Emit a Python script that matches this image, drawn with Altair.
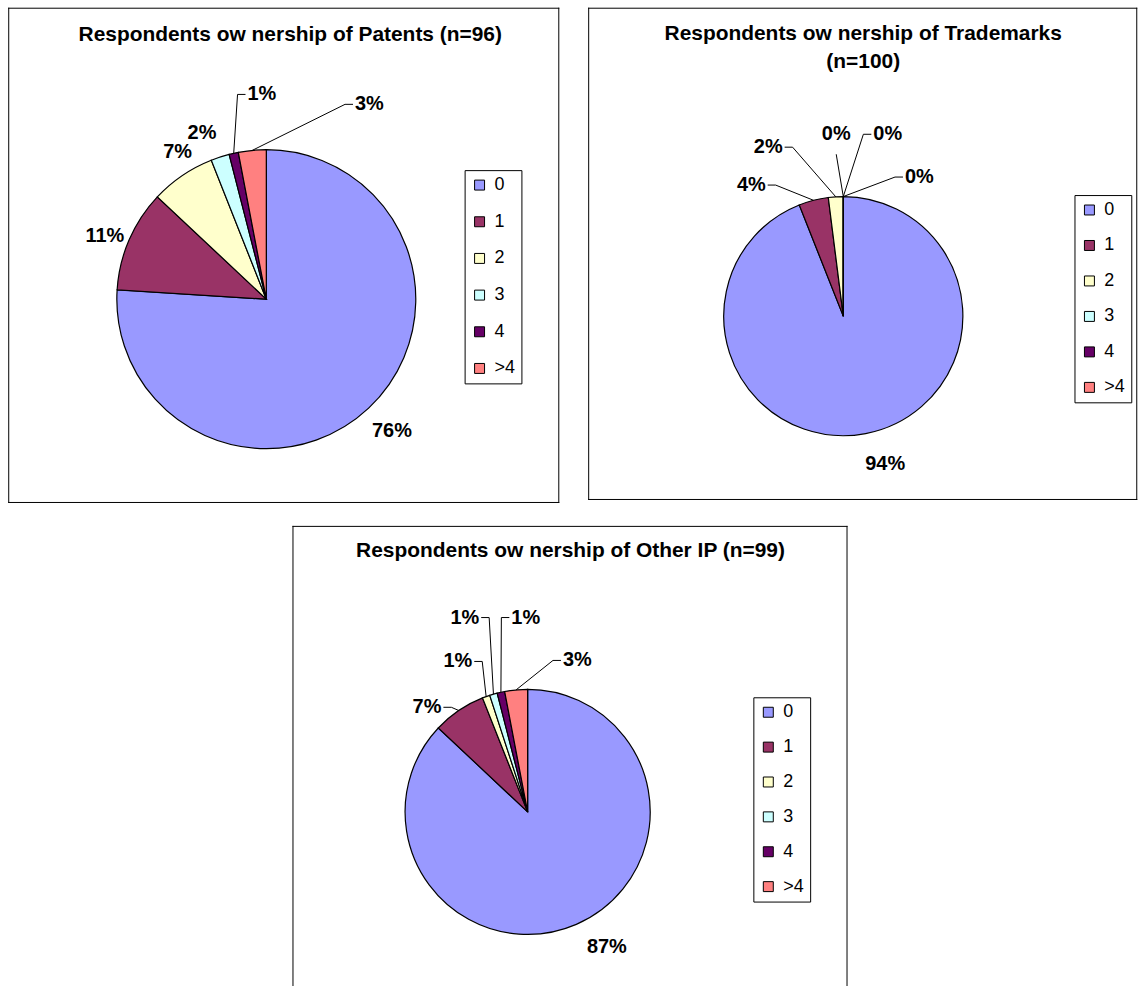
import math

import altair as alt
import pandas as pd

# ---------------------------------------------------------------- data
CATEGORIES = ["0", "1", "2", "3", "4", ">4"]
COLORS = ["#9999FF", "#993366", "#FFFFCC", "#CCFFFF", "#660066", "#FF8080"]

PATENTS = [76, 11, 7, 2, 1, 3]
TRADEMARKS = [94, 4, 2, 0, 0, 0]
OTHER_IP = [87, 7, 1, 1, 1, 3]

TITLE_PATENTS = "Respondents ow nership of Patents (n=96)"
TITLE_TRADEMARKS = "Respondents ow nership of Trademarks\n(n=100)"
TITLE_OTHER = "Respondents ow nership of Other IP (n=99)"

# ---------------------------------------------------------------- layout
FONT = "Liberation Sans, Arial, sans-serif"
TICK = 8   # horizontal end of a leader line
GAP = 2    # space between leader end and its label

# label placement per slice: (angle in degrees clockwise from 12 o'clock,
# distance from pie centre, where the label sits relative to its leader)
LAYOUT_PATENTS = dict(
    size=(553, 497), center=(259, 292.5), radius=150, title=(283, 16.5),
    legend=(458, 163), row_pad=18.8, borders=("left", "right", "top", "bottom"),
    labels=[(136.4, 182.8, "none"), (291.4, 174, "none"), (328.9, 172.3, "none"),
            (338.8, 178.6, "none"), (352.0, 207.5, "right"), (22.0, 210.9, "right")],
)
LAYOUT_TRADEMARKS = dict(
    size=(551, 494), center=(256, 309.5), radius=120, title=(276, 15.5),
    legend=(488, 188), row_pad=17.6, borders=("left", "right", "top", "bottom"),
    labels=[(164.2, 154.3, "none"), (332.7, 148, "left"), (343.3, 177, "left"),
            (357.5, 162.6, "above"), (6.3, 183.6, "right"), (20.4, 148.9, "right")],
)
LAYOUT_OTHER = dict(
    size=(563, 463), center=(236, 287), radius=123, title=(279, 14.5),
    legend=(462.5, 172), row_pad=17, borders=("left", "right", "top"),
    box_width=557,
    labels=[(149.7, 157.5, "none"), (323.9, 129.9, "left"), (343.2, 157.7, "left"),
            (348.8, 198.8, "left"), (352.3, 196.8, "right"), (9.5, 154.1, "right")],
)

PX = dict(scale=None, axis=None)


def slice_table(values, lay):
    cx, cy = lay["center"]
    r_pie = lay["radius"]
    total = sum(values)
    rows, cum = [], 0
    for i, (cat, v, (ang, rad, side)) in enumerate(zip(CATEGORIES, values, lay["labels"])):
        mid = math.radians((cum + v / 2) / total * 360)
        cum += v
        a = math.radians(ang)
        px, py = cx + rad * math.sin(a), cy - rad * math.cos(a)
        if side == "right":
            tx, lx, ly = px + TICK, px + TICK + GAP, py
        elif side == "left":
            tx, lx, ly = px - TICK, px - TICK - GAP, py
        elif side == "above":
            tx, lx, ly = px, px, py - 20
        else:
            tx, lx, ly = px, px, py
        rows.append(dict(
            idx=i, cat=cat, pct=v, label=f"{v}%", side=side,
            ax=cx + r_pie * math.sin(mid), ay=cy - r_pie * math.cos(mid),
            px=px, py=py, tx=tx, lx=lx, ly=ly,
        ))
    return pd.DataFrame(rows)


def border(edge, w, h):
    one = alt.Chart(pd.DataFrame({"k": [0]}))
    rule = one.mark_rule(color="black", strokeWidth=1)
    if edge == "left":
        return rule.encode(x=alt.value(0.5), y=alt.value(0), y2=alt.value(h))
    if edge == "right":
        return rule.encode(x=alt.value(w - 0.5), y=alt.value(0), y2=alt.value(h))
    if edge == "top":
        return rule.encode(x=alt.value(0), x2=alt.value(w), y=alt.value(0.5))
    return rule.encode(x=alt.value(0), x2=alt.value(w), y=alt.value(h - 0.5))


def pie_panel(values, title, lay):
    w, h = lay["size"]
    bw = lay.get("box_width", w)
    cx, cy = lay["center"]
    df = slice_table(values, lay)
    base = alt.Chart(df)

    pie = base.mark_arc(radius=lay["radius"], stroke="black", strokeWidth=1.2).encode(
        theta=alt.Theta("pct:Q", stack=True),
        order=alt.Order("idx:Q", sort="ascending"),
        color=alt.Color(
            "cat:N",
            scale=alt.Scale(domain=CATEGORIES, range=COLORS),
            legend=alt.Legend(
                orient="none", legendX=lay["legend"][0], legendY=lay["legend"][1],
                title=None, symbolType="square", symbolSize=100,
                symbolStrokeColor="black", symbolStrokeWidth=1, symbolOpacity=1,
                labelFont=FONT, labelFontSize=18, labelColor="black", labelOffset=6,
                rowPadding=lay["row_pad"], padding=6,
                strokeColor="black", fillColor="white",
            ),
        ),
        x=alt.value(cx),
        y=alt.value(cy),
    )

    leader = base.transform_filter("datum.side != 'none'").mark_rule(
        color="black", strokeWidth=1
    ).encode(
        x=alt.X("ax:Q", **PX), y=alt.Y("ay:Q", **PX), x2="px:Q", y2="py:Q"
    )
    tick = base.transform_filter(
        "datum.side == 'left' || datum.side == 'right'"
    ).mark_rule(color="black", strokeWidth=1).encode(
        x=alt.X("px:Q", **PX), y=alt.Y("py:Q", **PX), x2="tx:Q", y2="py:Q"
    )

    def labels(sides, align):
        test = " || ".join(f"datum.side == '{s}'" for s in sides)
        return base.transform_filter(test).mark_text(
            align=align, baseline="middle", font=FONT, fontSize=20,
            fontWeight="bold", color="black",
        ).encode(x=alt.X("lx:Q", **PX), y=alt.Y("ly:Q", **PX), text="label:N")

    heading = alt.Chart(pd.DataFrame({"title": [title]})).mark_text(
        align="center", baseline="top", font=FONT, fontSize=21, fontWeight="bold",
        color="black", lineBreak="\n", lineHeight=28,
    ).encode(x=alt.value(lay["title"][0]), y=alt.value(lay["title"][1]), text="title:N")

    frame = [border(e, bw, h) for e in lay["borders"]]

    return alt.layer(
        *frame, pie, leader, tick,
        labels(["none", "above"], "center"),
        labels(["right"], "left"),
        labels(["left"], "right"),
        heading,
    ).properties(width=w, height=h)


patents = pie_panel(PATENTS, TITLE_PATENTS, LAYOUT_PATENTS)
trademarks = pie_panel(TRADEMARKS, TITLE_TRADEMARKS, LAYOUT_TRADEMARKS)
other = pie_panel(OTHER_IP, TITLE_OTHER, LAYOUT_OTHER)

top_row = (
    alt.hconcat(patents, trademarks, spacing=27)
    .resolve_scale(color="independent")
    .resolve_legend(color="independent")
)

chart = (
    alt.vconcat(top_row, other, spacing=21, center=True)
    .resolve_scale(color="independent")
    .resolve_legend(color="independent")
    .properties(padding={"left": 7, "top": 5, "right": 1, "bottom": 0}, background="white")
    .configure_view(stroke=None)
)

chart.save("out.html", embed_options={"renderer": "svg", "actions": False})
